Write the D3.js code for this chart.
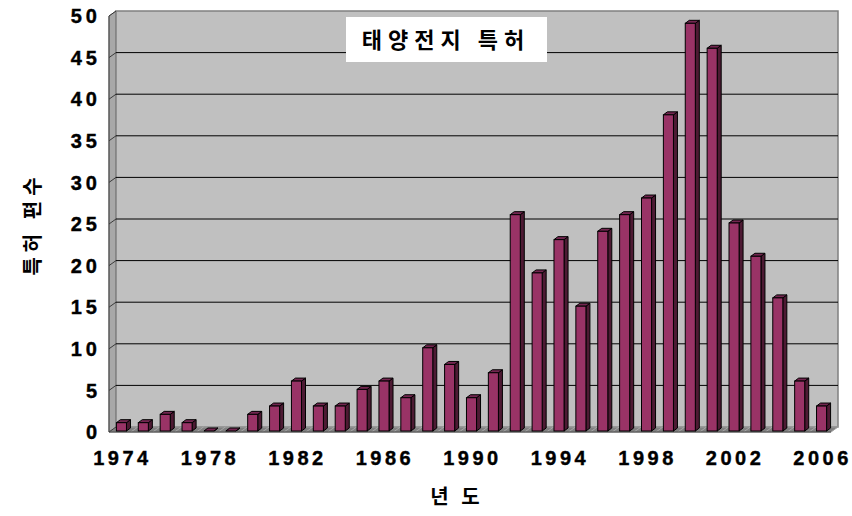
<!DOCTYPE html>
<html>
<head>
<meta charset="utf-8">
<script src="https://cdn.jsdelivr.net/npm/d3@7"></script>
<style>
  html, body { margin: 0; padding: 0; background: #fff; }
  svg { display: block; }
</style>
</head>
<body>
<script>
// Solar-cell patent counts per year
const years = d3.range(1974, 2007).map(String);
const counts = [1, 1, 2, 1, 0, 0, 2, 3, 6, 3, 3, 5, 6, 4, 10, 8, 4, 7,
                26, 19, 23, 15, 24, 26, 28, 38, 49, 46, 25, 21, 16, 6, 3];
const yTicks = [0, 5, 10, 15, 20, 25, 30, 35, 40, 45, 50];
const xTickLabels = ["1974", "1978", "1982", "1986", "1990", "1994", "1998", "2002", "2006"];
const chartTitle = "태양전지 특허";
const xTitle = "년 도";
const yTitle = "특허 편수";

const W = 852, H = 516;
const front = { left: 109, right: 831, top: 16, bottom: 432 };
const depth = { dx: 7, dy: -5 };           // wall depth offset
const barDepth = { x0: 1.5, y0: -1, dx: 4, dy: -3 };

const svg = d3.select("body").append("svg").attr("width", W).attr("height", H);

const x = d3.scaleBand().domain(years).range([front.left, front.right]).paddingInner(0.54).paddingOuter(0.27);
const y = d3.scaleLinear().domain([0, 50]).range([front.bottom, front.top]);

// Left side wall
svg.append("path")
  .attr("d", `M${front.left},${front.top} L${front.left + depth.dx},${front.top + depth.dy} L${front.left + depth.dx},${front.bottom + depth.dy} L${front.left},${front.bottom} Z`)
  .attr("fill", "#a8a8a8").attr("stroke", "#808080").attr("stroke-width", 1);

// Back wall
svg.append("rect")
  .attr("x", front.left + depth.dx).attr("y", front.top + depth.dy)
  .attr("width", front.right - front.left).attr("height", front.bottom - front.top)
  .attr("fill", "#c0c0c0").attr("stroke", "#808080").attr("stroke-width", 1.5);

// Floor
svg.append("path")
  .attr("d", `M${front.left},${front.bottom} L${front.right},${front.bottom} L${front.right + depth.dx},${front.bottom + depth.dy} L${front.left + depth.dx},${front.bottom + depth.dy} Z`)
  .attr("fill", "#808080").attr("stroke", "#a0a0a0").attr("stroke-width", 1);

// Floor separators between categories
const step = x.step();
svg.append("g").selectAll("line")
  .data(d3.range(1, years.length))
  .join("line")
  .attr("x1", i => front.left + i * step).attr("y1", front.bottom)
  .attr("x2", i => front.left + i * step + depth.dx).attr("y2", front.bottom + depth.dy)
  .attr("stroke", "#b0b0b0").attr("stroke-width", 0.8);

// Gridlines on the back wall and side wall
const grid = svg.append("g");
yTicks.filter(v => v > 0 && v < 50).forEach(v => {
  grid.append("line")
    .attr("x1", front.left + depth.dx).attr("x2", front.right + depth.dx)
    .attr("y1", y(v) + depth.dy).attr("y2", y(v) + depth.dy)
    .attr("stroke", "#000").attr("stroke-width", 1);
});
yTicks.forEach(v => {
  grid.append("line")
    .attr("x1", front.left).attr("y1", y(v))
    .attr("x2", front.left + depth.dx).attr("y2", y(v) + depth.dy)
    .attr("stroke", "#202020").attr("stroke-width", 0.8);
});

// Axis lines
svg.append("line").attr("x1", front.left).attr("x2", front.left)
  .attr("y1", front.top).attr("y2", front.bottom).attr("stroke", "#404040").attr("stroke-width", 1);
svg.append("line").attr("x1", front.left).attr("x2", front.right)
  .attr("y1", front.bottom).attr("y2", front.bottom).attr("stroke", "#404040").attr("stroke-width", 1);

// 3D bars
const bars = svg.append("g").selectAll("g")
  .data(years.map((yr, i) => ({ yr, v: counts[i] })))
  .join("g")
  .attr("transform", `translate(${barDepth.x0},${barDepth.y0})`);

const bw = x.bandwidth();
bars.each(function(d) {
  const g = d3.select(this);
  const x0 = x(d.yr), x1 = x0 + bw;
  const yt = y(d.v), yb = y(0);
  const { dx, dy } = barDepth;
  // side face
  g.append("path")
    .attr("d", `M${x1},${yt} L${x1 + dx},${yt + dy} L${x1 + dx},${yb + dy} L${x1},${yb} Z`)
    .attr("fill", "#4d1a33").attr("stroke", "#000").attr("stroke-width", 1);
  // top face
  g.append("path")
    .attr("d", `M${x0},${yt} L${x0 + dx},${yt + dy} L${x1 + dx},${yt + dy} L${x1},${yt} Z`)
    .attr("fill", "#732650").attr("stroke", "#000").attr("stroke-width", 1);
  // front face
  g.append("rect")
    .attr("x", x0).attr("y", yt).attr("width", bw).attr("height", Math.max(0, yb - yt))
    .attr("fill", "#993366").attr("stroke", "#000").attr("stroke-width", 1);
});

// Y axis labels
const labelFont = "'Liberation Sans', Arial, sans-serif";
svg.append("g").selectAll("text")
  .data(yTicks)
  .join("text")
  .attr("x", 101).attr("y", v => y(v))
  .attr("dy", "0.36em")
  .attr("text-anchor", "end")
  .attr("font-family", labelFont).attr("font-weight", "bold")
  .attr("font-size", 20).attr("letter-spacing", 4)
  .attr("stroke", "#000").attr("stroke-width", 0.4)
  .text(v => v);

// X axis labels
svg.append("g").selectAll("text")
  .data(xTickLabels)
  .join("text")
  .attr("x", d => x(d) + bw / 2 + barDepth.x0 + 1)
  .attr("y", 465)
  .attr("text-anchor", "middle")
  .attr("font-family", labelFont).attr("font-weight", "bold")
  .attr("font-size", 20).attr("letter-spacing", 3.5)
  .attr("stroke", "#000").attr("stroke-width", 0.4)
  .text(d => d);

// Chart title in a white box
svg.append("rect").attr("x", 346).attr("y", 17).attr("width", 201).attr("height", 45).attr("fill", "#fff");
svg.append("text")
  .attr("x", 446).attr("y", 48)
  .attr("text-anchor", "middle")
  .attr("font-family", "'Noto Sans CJK KR', sans-serif").attr("font-weight", "bold")
  .attr("font-size", 22).attr("letter-spacing", 6)
  .text(chartTitle);

// Axis titles
svg.append("text")
  .attr("x", 457).attr("y", 504)
  .attr("text-anchor", "middle")
  .attr("font-family", "'Noto Sans CJK KR', sans-serif").attr("font-weight", "bold")
  .attr("font-size", 20).attr("letter-spacing", 4)
  .text(xTitle);

svg.append("text")
  .attr("transform", "translate(40,224) rotate(-90)")
  .attr("text-anchor", "middle")
  .attr("font-family", "'Noto Sans CJK KR', sans-serif").attr("font-weight", "bold")
  .attr("font-size", 20).attr("letter-spacing", 5)
  .text(yTitle);
</script>
</body>
</html>
